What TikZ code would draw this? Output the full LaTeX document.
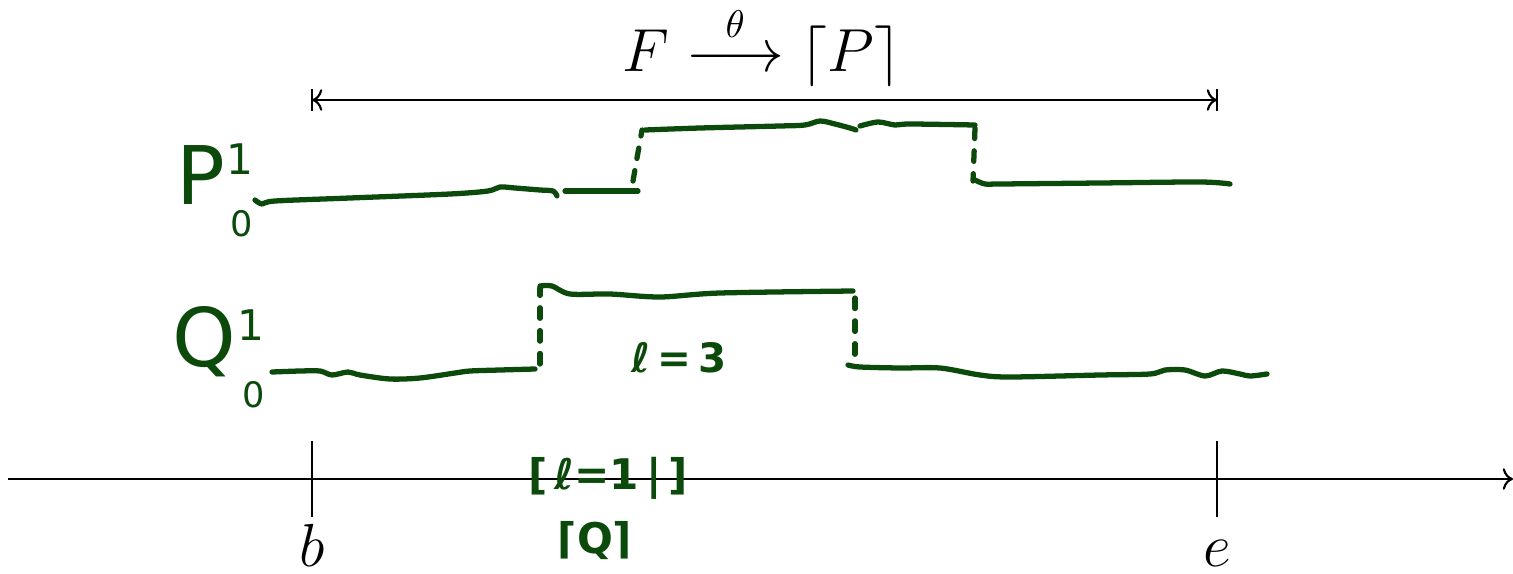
\documentclass[tikz,border=0pt]{standalone}
\usepackage{amsmath}
\usepackage{fontspec}
\usetikzlibrary{arrows.meta,positioning}
\newfontfamily\handfont{DejaVu Sans}
\definecolor{inkgreen}{RGB}{12,74,12}

\tikzset{
  axisline/.style={line width=0.6pt, draw=black},
  inkline/.style={draw=inkgreen, line width=1.5pt, line cap=round, line join=round},
  inkdash/.style={inkline, dash pattern=on 3pt off 3.5pt},
  inklabel/.style={text=inkgreen, font=\handfont\bfseries, inner sep=0pt},
  bigink/.style={text=inkgreen, font=\handfont\fontsize{23}{26}\selectfont, inner sep=0pt},
  supink/.style={text=inkgreen, font=\handfont\fontsize{12}{14}\selectfont, inner sep=0pt},
  subink/.style={text=inkgreen, font=\handfont\fontsize{10}{11}\selectfont, inner sep=0pt},
  mathlabel/.style={font=\fontsize{16}{19}\selectfont, inner sep=0pt}
}

\begin{document}
\begin{tikzpicture}[x=0.01cm, y=-0.01cm, >=To]
    \useasboundingbox (0,0) rectangle (1513,573);

    % Time axis and its ticks
    \coordinate (tstart) at (8,479);
    \coordinate (tend) at (1513,479);
    \draw[axisline, ->] (tstart) -- (tend);
    \coordinate (btop) at (312,441);
    \coordinate (bbot) at (312,517);
    \coordinate (etop) at (1217,441);
    \coordinate (ebot) at (1217,517);
    \draw[axisline] (btop) -- (bbot);
    \draw[axisline] (etop) -- (ebot);
    \node[mathlabel, anchor=base] (blab) at (312,566) {$b$};
    \node[mathlabel, anchor=base] (elab) at (1217,566) {$e$};

    % Span of F
    \coordinate (sl) at (312,100);
    \coordinate (sr) at (1217,100);
    \draw[axisline] (312,89) -- (312,111);
    \draw[axisline] (1217,89) -- (1217,111);
    \draw[axisline, <->] (sl) -- (sr);
    \node[mathlabel, anchor=base] (flab) at (762,72)
        {$F \overset{\theta}{\longrightarrow} \lceil P \rceil$};

    % Signal P
    \node[bigink, anchor=base] (plab) at (201,205) {P};
    \node[supink, anchor=south west] (psup) at (plab.east) {1};
    \node[subink, anchor=north west] (psub) at ([xshift=1pt, yshift=-1pt]plab.south east) {0};
    \draw[inkline] plot[smooth, tension=0.5] coordinates {
        (255,200) (262,204) (275,201) (350,198) (450,194) (488,191) (500,187)
        (515,188) (540,190) (553,191) (557,196)};
    \draw[inkline] (565,191) -- (638,191);
    \draw[inkdash] (633,181) -- (637,158) -- (642,130);
    \draw[inkline] plot[smooth, tension=0.5] coordinates {
        (645,130) (700,128) (780,126) (805,125) (820,121) (835,124) (850,128) (856,130)};
    \draw[inkline] plot[smooth, tension=0.5] coordinates {
        (860,126) (878,122) (895,125) (910,124) (975,125)};
    \draw[inkdash] (975,128) -- (973,181);
    \draw[inkline] plot[smooth, tension=0.5] coordinates {
        (975,180) (985,184) (1000,184) (1100,183) (1200,182) (1230,184)};

    % Signal Q
    \node[bigink, anchor=base] (qlab) at (204,366) {Q};
    \node[supink, anchor=south west] (qsup) at (qlab.east) {1};
    \node[subink, anchor=north west] (qsub) at ([xshift=1.5pt, yshift=-1pt]qlab.south east) {0};
    \draw[inkline] plot[smooth, tension=0.5] coordinates {
        (272,372) (300,371) (320,371) (332,375) (348,372) (360,375) (390,379)
        (420,378) (455,373) (470,371) (500,370) (535,369)};
    \draw[inkdash] (540,364) -- (540,288);
    \draw[inkline] plot[smooth, tension=0.5] coordinates {
        (540,286) (552,286) (570,294) (610,294) (660,297) (720,293) (853,291)};
    \draw[inkdash] (855,298) -- (855,357);
    \draw[inkline] plot[smooth, tension=0.5] coordinates {
        (848,365) (860,367) (900,368) (940,368) (980,375) (1010,377) (1100,375)
        (1150,374) (1165,370) (1185,370) (1205,376) (1222,371) (1240,374)
        (1250,376) (1267,374)};
    \node[inklabel, font=\handfont\bfseries\fontsize{11.5}{14}\selectfont] (len3) at (679,358) {ℓ\,=\,3};

    % Notes under the axis
    \node[inklabel, font=\handfont\bfseries\fontsize{12}{14}\selectfont] (len1) at (608,478) {[\,ℓ=1\,|\,]};
    \node[inklabel, font=\handfont\bfseries\fontsize{12}{14}\selectfont] (ceilq) at (595,541) {⌈Q⌉};
\end{tikzpicture}
\end{document}
